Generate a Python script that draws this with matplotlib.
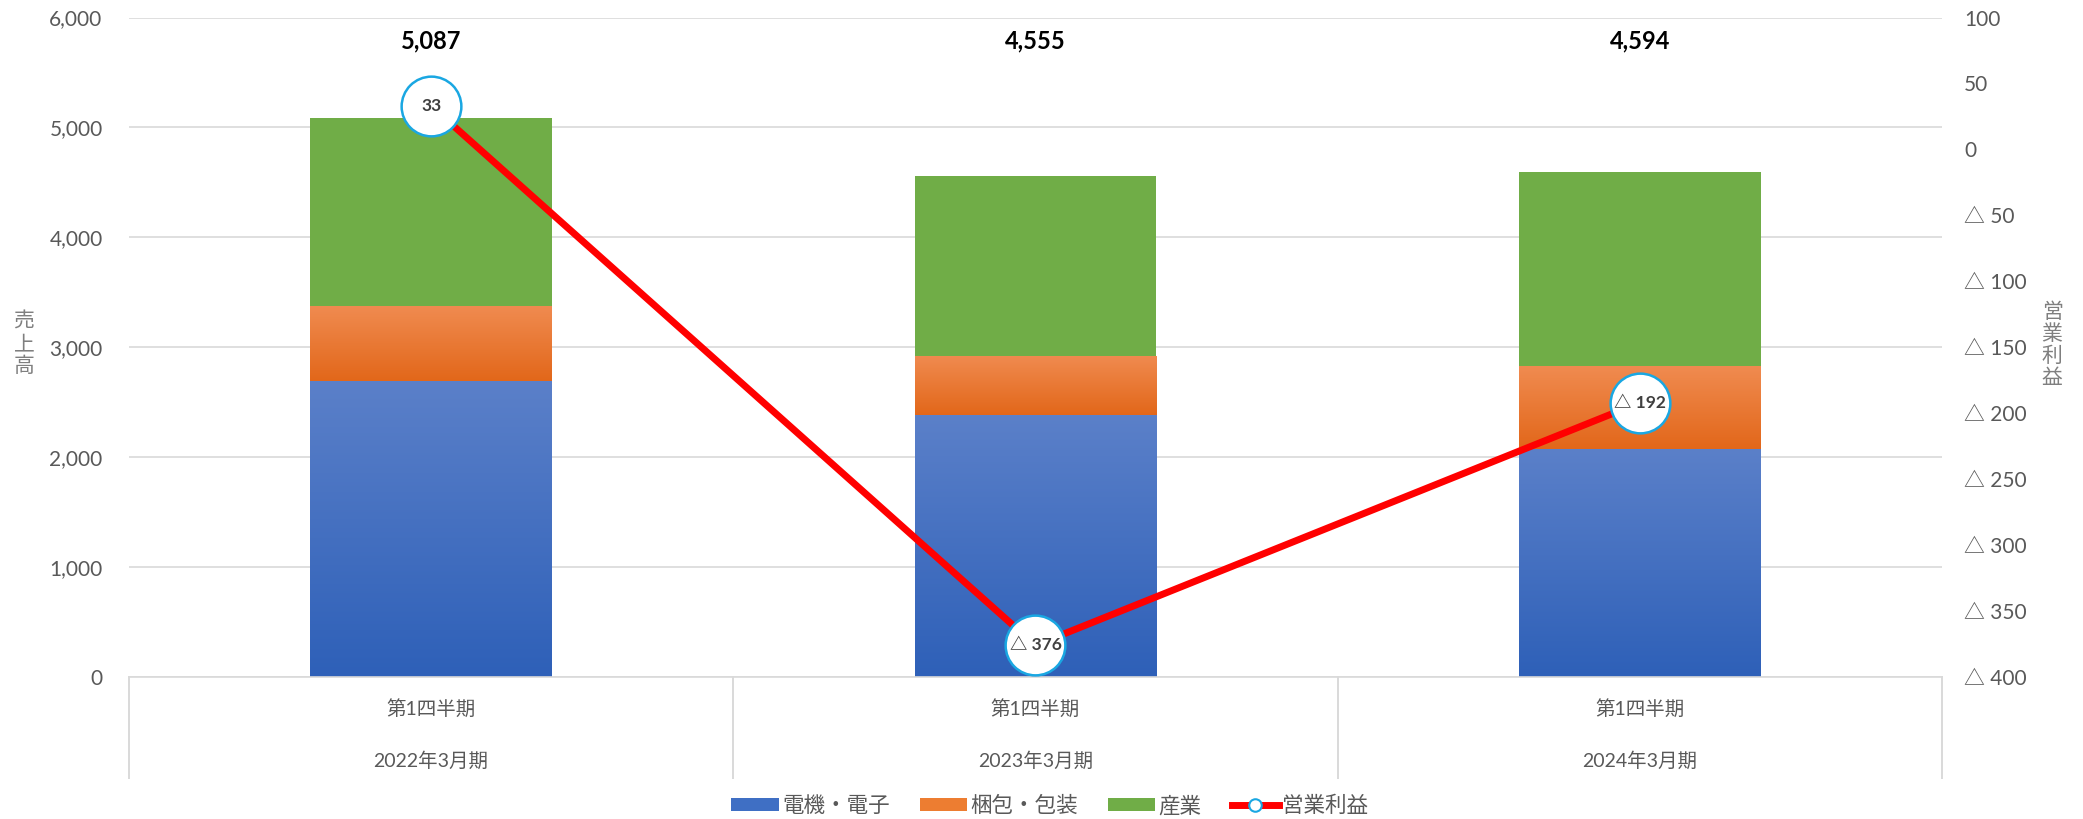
import numpy as np
import matplotlib
matplotlib.use("Agg")
import matplotlib.pyplot as plt
from matplotlib.colors import LinearSegmentedColormap
from matplotlib.patches import Patch
from matplotlib.lines import Line2D
from matplotlib.ticker import FuncFormatter

plt.rcParams['font.family'] = ['Lato', 'Noto Sans CJK JP', 'DejaVu Sans']

# ---- data ----
quarters = ["第1四半期", "第1四半期", "第1四半期"]
years = ["2022年3月期", "2023年3月期", "2024年3月期"]
denki = [2695, 2380, 2078]      # 電機・電子
konpo = [682, 542, 748]         # 梱包・包装
sangyo = [1710, 1633, 1768]     # 産業
eigyo = [33, -376, -192]        # 営業利益
series_names = ["電機・電子", "梱包・包装", "産業", "営業利益"]
left_title = "売上高"
right_title = "営業利益"

GRAY = '#595959'
GRID = '#d9d9d9'
W, H = 2083, 819

fig = plt.figure(figsize=(20.83, 8.19), dpi=100)
ax = fig.add_axes([0.0619, 0.1734, 0.8704, 0.8052])
ax2 = ax.twinx()

x = np.arange(len(years))
width = 0.4


def grad_bars(xs, heights, bottoms, c_top, c_bot, flat=None):
    rects = ax.bar(xs, heights, width, bottom=bottoms,
                   color=(flat if flat else 'none'), linewidth=0, zorder=2)
    if flat:
        return rects
    cmap = LinearSegmentedColormap.from_list('g', [c_top, c_bot])
    grad = np.linspace(0, 1, 256).reshape(-1, 1)
    for r in rects:
        x0, y0, w, h = r.get_x(), r.get_y(), r.get_width(), r.get_height()
        im = ax.imshow(grad, extent=[x0, x0 + w, y0, y0 + h], aspect='auto',
                       cmap=cmap, origin='upper', zorder=2, interpolation='bilinear')
        im.set_clip_path(r)
    return rects


b1 = np.array(denki)
b2 = b1 + np.array(konpo)
totals = b2 + np.array(sangyo)

grad_bars(x, denki, 0, '#5b80c9', '#2e60b8')
grad_bars(x, konpo, b1, '#f08b50', '#e2671a')
grad_bars(x, sangyo, b2, None, None, flat='#70ad47')

# total labels (fixed height near top)
for xi, t in zip(x, totals):
    ax.text(xi, 5790, f"{t:,}", ha='center', va='center', fontsize=17,
            fontweight='bold', color='black')

ax.set_xlim(-0.5, 2.5)
ax.set_ylim(0, 6000)
ax.set_yticks(np.arange(0, 6001, 1000))
ax.yaxis.set_major_formatter(FuncFormatter(lambda v, p: f"{int(v):,}"))
ax.grid(axis='y', color=GRID, linewidth=1.2)
ax.set_axisbelow(True)
ax.tick_params(axis='y', length=0, pad=19, labelsize=15, labelcolor=GRAY)
ax.set_xticks([])
for s in ['top', 'right', 'left']:
    ax.spines[s].set_visible(False)
ax.spines['bottom'].set_color(GRID)
ax.spines['bottom'].set_linewidth(1.2)

# category axis boxes
xt = ax.get_xaxis_transform()
for bx in [-0.5, 0.5, 1.5, 2.5]:
    ax.plot([bx, bx], [0, -0.153], transform=xt, clip_on=False,
            color=GRID, linewidth=1.4)
for xi, q, yr in zip(x, quarters, years):
    ax.text(xi, -0.047, q, transform=xt, ha='center', va='center',
            fontsize=14, color=GRAY)
    ax.text(xi, -0.126, yr, transform=xt, ha='center', va='center',
            fontsize=14, color=GRAY)

# line on secondary axis
ax2.plot(x, eigyo, color='#ff0000', linewidth=5, marker='o', markersize=43,
         markerfacecolor='white', markeredgecolor='#1aa7e2', markeredgewidth=1.8,
         zorder=3, solid_capstyle='round')
for xi, v in zip(x, eigyo):
    lab = f"{v}" if v >= 0 else f"△ {abs(v)}"
    ax2.text(xi, v, lab, ha='center', va='center', fontsize=12.5,
             fontweight='bold', color='#404040', zorder=5)

ax2.set_ylim(-400, 100)
ax2.set_yticks(np.arange(-400, 101, 50))
ax2.yaxis.set_major_formatter(FuncFormatter(
    lambda v, p: f"{int(v)}" if v >= 0 else f"△ {abs(int(v))}"))
ax2.tick_params(axis='y', length=0, pad=16, labelsize=15, labelcolor=GRAY)
for s in ['top', 'right', 'left', 'bottom']:
    ax2.spines[s].set_visible(False)


# axis titles (stacked vertical characters)
def vtitle(s, xc, yc, step=22):
    n = len(s)
    y0 = yc - step * (n - 1) / 2
    for i, ch in enumerate(s):
        fig.text(xc / W, 1 - (y0 + i * step) / H, ch, ha='center', va='center',
                 fontsize=15, color='#7f7f7f', family=['Noto Sans CJK JP'])


vtitle(left_title, 24, 344)
vtitle(right_title, 2052, 345)

# legend
handles = [Patch(facecolor='#3f6fc4'), Patch(facecolor='#ed7d31'),
           Patch(facecolor='#70ad47'),
           Line2D([], [], color='#ff0000', linewidth=5, marker='o', markersize=9,
                  markerfacecolor='white', markeredgecolor='#1aa7e2',
                  markeredgewidth=1.5)]
leg = fig.legend(handles, series_names, loc='center', bbox_to_anchor=(0.504, 0.016),
                 ncol=4, frameon=False, fontsize=15.5, handlelength=2.2,
                 handleheight=0.55, handletextpad=0.15, columnspacing=1.4)
for t in leg.get_texts():
    t.set_color(GRAY)

fig.savefig('out.png', dpi=100)
